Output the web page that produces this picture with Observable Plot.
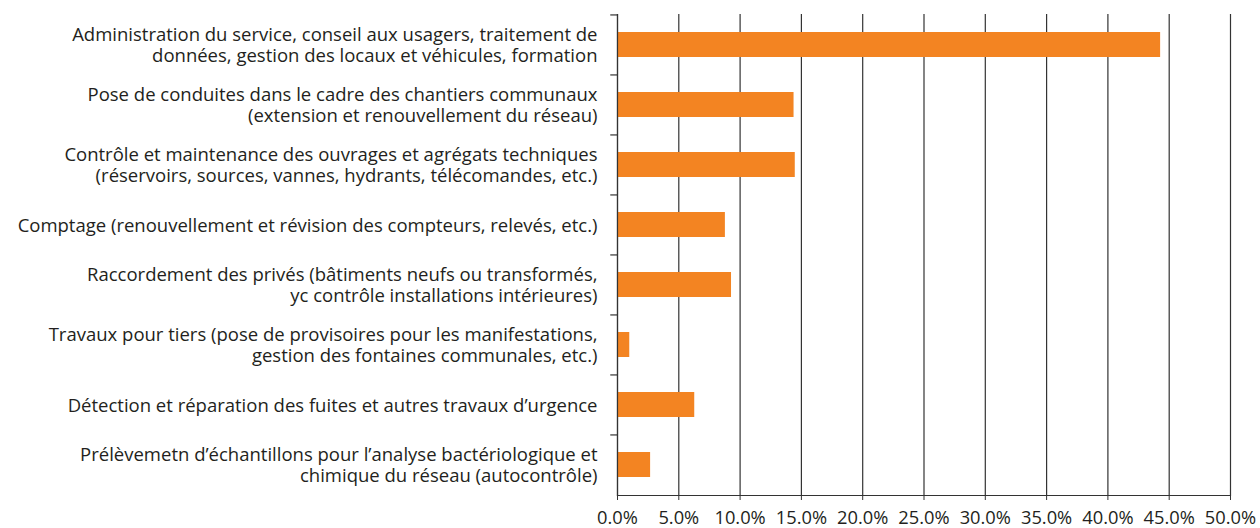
<!DOCTYPE html>
<html><head><meta charset="utf-8">
<script src="https://cdn.jsdelivr.net/npm/d3@7"></script>
<script src="https://cdn.jsdelivr.net/npm/@observablehq/plot@0.6"></script>
<style>body{margin:0;background:#fff}</style>
</head><body><div id="chart"></div>
<script>
const categories = [
  "Administration du service, conseil aux usagers, traitement de\ndonnées, gestion des locaux et véhicules, formation",
  "Pose de conduites dans le cadre des chantiers communaux\n(extension et renouvellement du réseau)",
  "Contrôle et maintenance des ouvrages et agrégats techniques\n(réservoirs, sources, vannes, hydrants, télécomandes, etc.)",
  "Comptage (renouvellement et révision des compteurs, relevés, etc.)",
  "Raccordement des privés (bâtiments neufs ou transformés,\nyc contrôle installations intérieures)",
  "Travaux pour tiers (pose de provisoires pour les manifestations,\ngestion des fontaines communales, etc.)",
  "Détection et réparation des fuites et autres travaux d’urgence",
  "Prélèvemetn d’échantillons pour l’analyse bactériologique et\nchimique du réseau (autocontrôle)"
];
const values = [44.3, 14.4, 14.5, 8.8, 9.3, 1.0, 6.3, 2.7];
const xTicks = [0, 5, 10, 15, 20, 25, 30, 35, 40, 45, 50];

const data = categories.map((c, i) => ({category: c, value: values[i]}));

const W = 1260, H = 528, mT = 14, mB = 33, mL = 617, mR = 30;
const step = (H - mT - mB) / categories.length;
const ink = "#333";
const txt = "#231f20";

const chart = Plot.plot({
  width: W, height: H,
  marginTop: mT, marginBottom: mB, marginLeft: mL, marginRight: mR,
  style: {fontFamily: "'Open Sans', sans-serif", fontSize: "18px", background: "#fff", color: txt, overflow: "visible"},
  x: {domain: [0, 50], ticks: xTicks, tickFormat: d => d.toFixed(1) + "%", label: null},
  y: {domain: categories, paddingInner: 0.58, paddingOuter: 0.29, label: null, axis: null},
  marks: [
    Plot.gridX(xTicks, {stroke: ink, strokeOpacity: 1, strokeWidth: 1.2}),
    Plot.barX(data, {x: "value", y: "category", fill: "#F38422"}),
    Plot.frame({anchor: "left", stroke: ink, strokeWidth: 1.2}),
    Plot.frame({anchor: "bottom", stroke: ink, strokeWidth: 1.2}),
    Plot.ruleY(categories, {y: d => d, x1: -0.55, x2: 0, dy: -step / 2, stroke: ink, strokeWidth: 1.2}),
    Plot.axisX(xTicks, {tickSize: 5, tickPadding: 10, stroke: ink, fontSize: 18.3, fill: txt, tickFormat: d => d.toFixed(1) + "%"}),
    Plot.text(data, {y: "category", text: "category", frameAnchor: "left", dx: -20, textAnchor: "end", lineAnchor: "middle", lineHeight: 1.1, fontSize: 18.5, fill: txt})
  ]
});
document.getElementById("chart").appendChild(chart);
</script>
</body></html>
